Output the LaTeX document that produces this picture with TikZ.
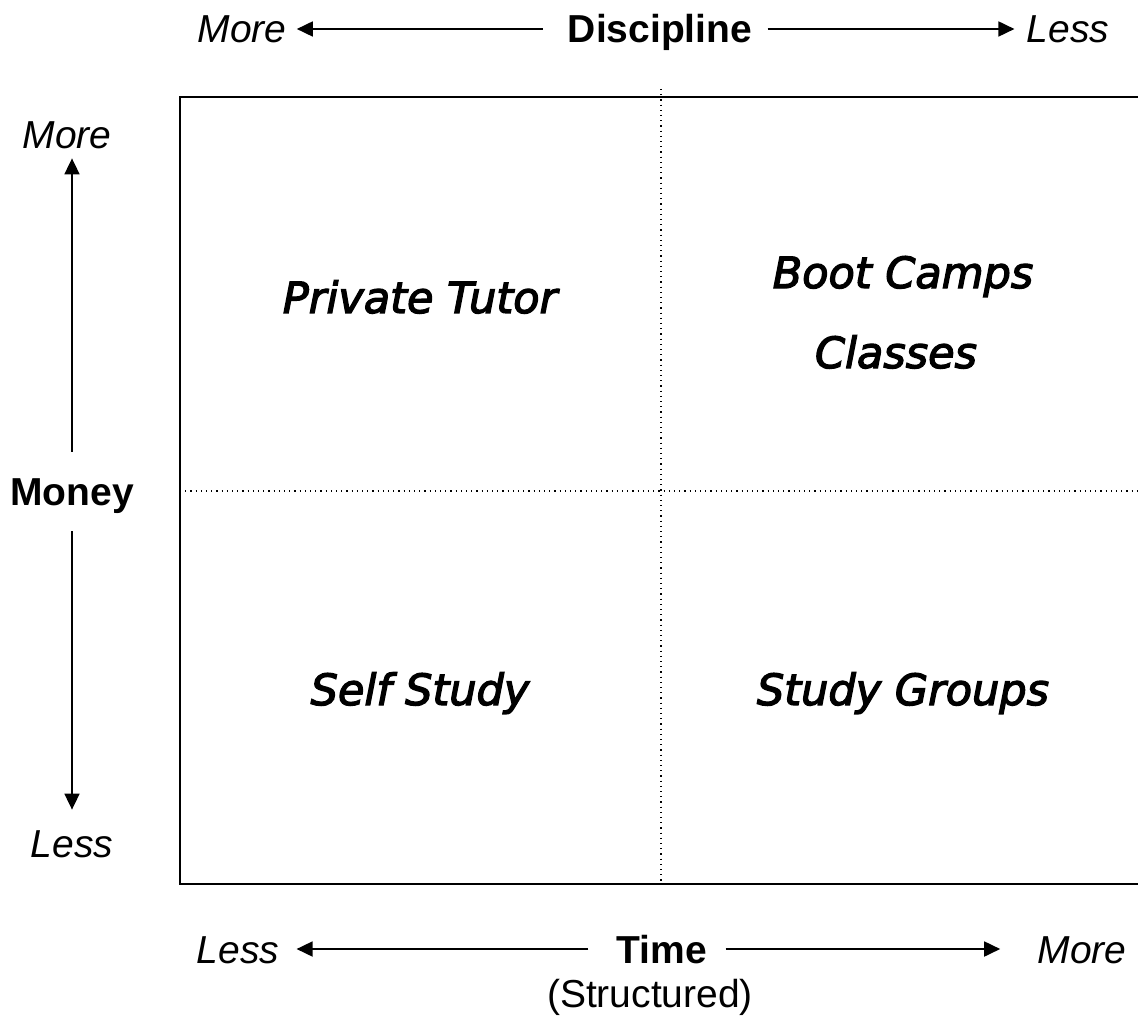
\documentclass[tikz,border=0pt]{standalone}
\usepackage{fontspec}
\setmainfont{Liberation Sans}
\newfontfamily\quadfont[ItalicFeatures={FakeBold=3}]{DejaVu Sans}
\usetikzlibrary{arrows.meta}

\begin{document}
\begin{tikzpicture}[x=0.5pt, y=-0.5pt,
        lbl/.style={inner sep=0pt, anchor=base, text height=14pt, text depth=0pt, font=\fontsize{19.5}{23}\selectfont},
        quad/.style={inner sep=0pt, anchor=base, font=\quadfont\itshape\fontsize{21.5}{26}\selectfont},
        axis/.style={line width=0.9pt, -{Triangle[length=8pt, width=7.5pt]}}]
        \useasboundingbox (0,0) rectangle (1138,1026);
        \draw[line width=1.1pt] (1150,97) -- (180,97) -- (180,884) -- (1150,884);
        \draw[line width=0.6pt, dotted] (661,89) -- (661,884);
        \draw[line width=0.6pt, dotted] (180,491) -- (1150,491);
        \node[lbl] (dmore) at (242,43) {\itshape More};
        \node[lbl] (disc) at (660,43) {\bfseries Discipline};
        \node[lbl] (dless) at (1068,43) {\itshape Less};
        \node[lbl] (lmore) at (67,149) {\itshape More};
        \node[lbl] (money) at (72,505) {\bfseries Money};
        \node[lbl] (lless) at (72,857) {\itshape Less};
        \node[lbl] (tless) at (238,963) {\itshape Less};
        \node[lbl] (time) at (662,963) {\bfseries Time};
        \node[lbl] (tmore) at (1082,963) {\itshape More};
        \node[lbl] (struct) at (650,1007) {(Structured)};
        \draw[axis, shorten <=12.5pt, shorten >=5pt] (disc.west) -- (dmore.east);
        \draw[axis, shorten <=7.5pt, shorten >=6pt] (disc.east) -- (dless.west);
        \draw[axis, shorten <=12.5pt, shorten >=4.5pt] (money.north) -- (money.north |- lmore.south);
        \draw[axis, shorten <=13pt, shorten >=9.5pt] (money.south) -- (lless.north);
        \draw[axis, shorten <=14pt, shorten >=8.5pt] (time.west) -- (tless.east);
        \draw[axis, shorten <=9pt, shorten >=18.5pt] (time.east) -- (tmore.west);
        \node[quad] (tutor) at (420,313) {Private Tutor};
        \node[quad] (camps) at (903,288) {Boot Camps};
        \node[quad] (classes) at (896,368) {Classes};
        \node[quad] (self) at (420,705) {Self Study};
        \node[quad] (groups) at (903,705) {Study Groups};
    \end{tikzpicture}
\end{document}
